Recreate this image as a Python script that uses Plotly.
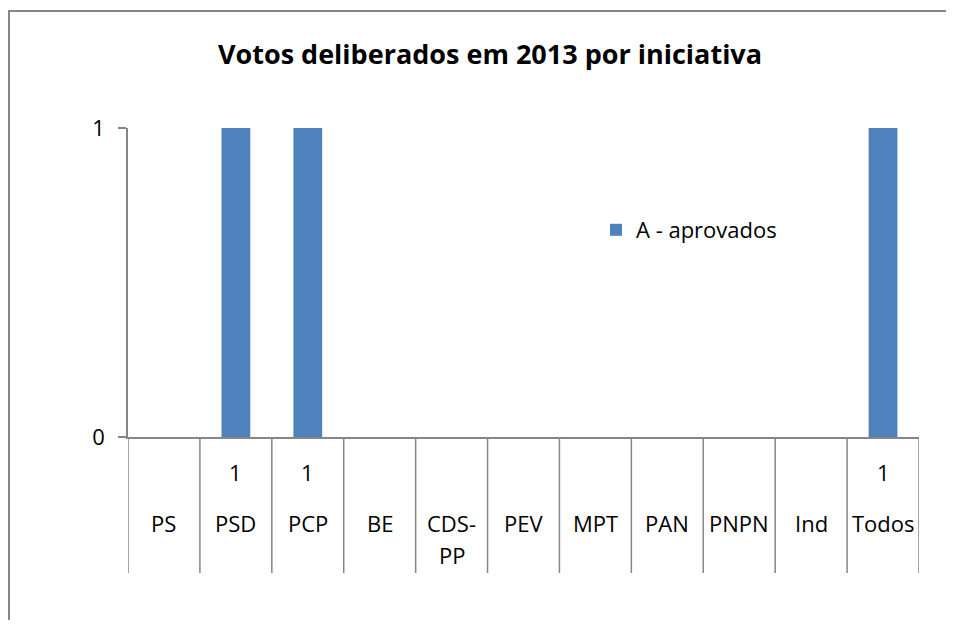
import plotly.graph_objects as go

categories = ["PS", "PSD", "PCP", "BE", "CDS-<br>PP", "PEV", "MPT", "PAN", "PNPN", "Ind", "Todos"]
aprovados = [None, 1, 1, None, None, None, None, None, None, None, 1]
series_name = "A - aprovados"
title_text = "Votos deliberados em 2013 por iniciativa"
y_ticks = [0, 1]

FONT = "'Open Sans', sans-serif"
GRAY = "#868686"
BLUE = "#4F81BD"
FS = 22

OFF = 8  # default body margin of the written page
W, H = 954 - 2 * OFF, 628 - 2 * OFF
L, R, T, B = 128 - OFF, 919 - OFF, 128 - OFF, 437 - OFF
pw, ph = R - L, B - T

def px_x(p):
    return (p - OFF - L) / pw

def px_y(p):
    return (B - (p - OFF)) / ph

n = len(categories)
xs = list(range(n))

fig = go.Figure()
fig.add_trace(go.Bar(
    x=xs, y=[v if v is not None else 0 for v in aprovados],
    name=series_name, marker=dict(color=BLUE, line=dict(width=0)),
    width=0.4, showlegend=True,
))

shapes = []
for i in range(n + 1):
    shapes.append(dict(type="line", xref="x", yref="paper",
                       x0=i - 0.5, x1=i - 0.5, y0=0, y1=px_y(573),
                       line=dict(color=GRAY, width=1.5)))
shapes.append(dict(type="line", xref="paper", yref="paper",
                   x0=px_x(9), x1=px_x(9), y0=px_y(10), y1=px_y(700),
                   line=dict(color=GRAY, width=2)))
shapes.append(dict(type="line", xref="paper", yref="paper",
                   x0=px_x(8), x1=px_x(1000), y0=px_y(11), y1=px_y(11),
                   line=dict(color=GRAY, width=2)))

annotations = []
for i, (c, v) in enumerate(zip(categories, aprovados)):
    for k, line in enumerate(c.split("<br>")):
        annotations.append(dict(x=i, y=px_y(523 + 32 * k), xref="x", yref="paper",
                                text=line, showarrow=False, xanchor="center", yanchor="middle",
                                font=dict(family=FONT, size=FS, color="black")))
    if v is not None:
        annotations.append(dict(x=i, y=px_y(472), xref="x", yref="paper",
                                text=str(v), showarrow=False, xanchor="center", yanchor="middle",
                                font=dict(family=FONT, size=FS, color="black")))

fig.update_layout(
    width=W, height=H,
    margin=dict(l=L, r=W - R, t=T, b=H - B),
    paper_bgcolor="white", plot_bgcolor="white",
    title=dict(text="<b>" + title_text + "</b>", x=px_x(490), xref="paper", xanchor="center",
               y=1 - (55 - OFF) / H, yanchor="middle",
               font=dict(family=FONT, size=27, color="black")),
    xaxis=dict(range=[-0.5, n - 0.5], showticklabels=False, showgrid=False, zeroline=False,
               showline=True, linecolor=GRAY, linewidth=1.5, ticks=""),
    yaxis=dict(range=[0, 1], tickvals=y_ticks, ticktext=[str(t) for t in y_ticks],
               showgrid=False, zeroline=False, showline=True, linecolor=GRAY, linewidth=1.5,
               ticks="outside", ticklen=8, tickcolor=GRAY, tickwidth=1.5,
               ticklabelstandoff=9,
               tickfont=dict(family=FONT, size=FS, color="black")),
    legend=dict(x=px_x(596), y=px_y(230), xanchor="left", yanchor="middle",
                bgcolor="rgba(0,0,0,0)", font=dict(family=FONT, size=FS, color="black")),
    shapes=shapes, annotations=annotations,
    bargap=0.6,
)

fig.write_html("out.html")
